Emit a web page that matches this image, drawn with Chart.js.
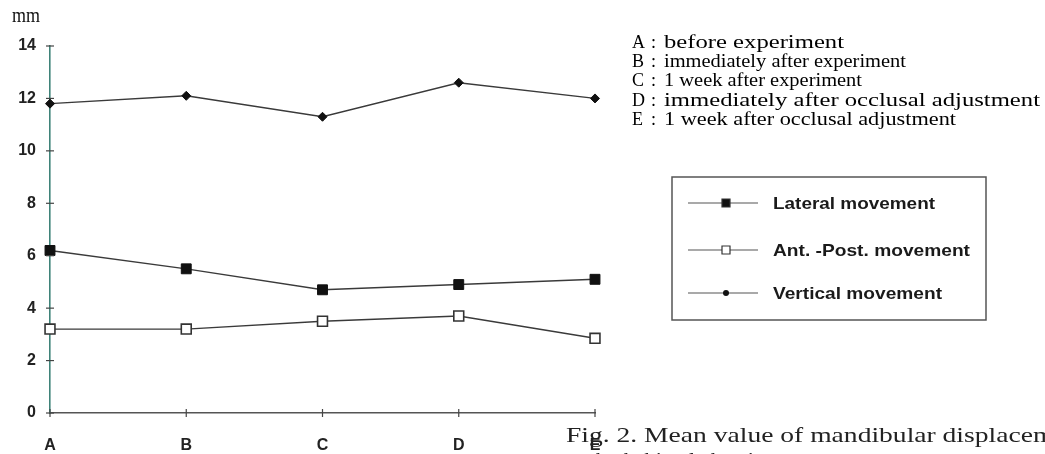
<!DOCTYPE html>
<html>
<head>
<meta charset="utf-8">
<script src="https://cdn.jsdelivr.net/npm/chart.js@4.4.0/dist/chart.umd.min.js"></script>
<style>
  html, body { margin: 0; padding: 0; background: #fff; }
  #wrap { width: 1045px; height: 454px; position: relative; }
</style>
</head>
<body>
<div id="wrap"><canvas id="myChart" width="1045" height="454"></canvas></div>
<script>
// données
const categories = ['A', 'B', 'C', 'D', 'E'];
const lateral = [6.2, 5.5, 4.7, 4.9, 5.1];
const antPost = [3.2, 3.2, 3.5, 3.7, 2.85];
const vertical = [11.8, 12.1, 11.3, 12.6, 12.0];
const yTicks = [0, 2, 4, 6, 8, 10, 12, 14];
const seriesNames = ['Lateral movement', 'Ant. -Post. movement', 'Vertical movement'];
const stageNotes = [
  'A : before experiment',
  'B : immediately after experiment',
  'C : 1 week after experiment',
  'D : immediately after occlusal adjustment',
  'E : 1 week after occlusal adjustment'
];
const caption = 'Fig. 2. Mean value of mandibular displacement';
const caption2 = 'by habitual chewing';

const lineCol = '#3a3a3a';

// texte étiré horizontalement à une largeur donnée
function stretchText(ctx, txt, x, y, font, width) {
  ctx.save();
  ctx.font = font;
  const w = ctx.measureText(txt).width;
  ctx.translate(x, y);
  ctx.scale(width / w, 1);
  ctx.fillText(txt, 0, 0);
  ctx.restore();
}

// petites graduations qui traversent les axes
const crossTicks = {
  id: 'crossTicks',
  afterDraw(chart) {
    const ctx = chart.ctx;
    const xs = chart.scales.x, ys = chart.scales.y;
    ctx.save();
    ctx.lineWidth = 1.2;
    ctx.strokeStyle = '#444';
    xs.ticks.forEach((t, i) => {
      const px = xs.getPixelForTick(i);
      ctx.beginPath();
      ctx.moveTo(px, ys.bottom - 4);
      ctx.lineTo(px, ys.bottom + 4);
      ctx.stroke();
    });
    ys.ticks.forEach((t, i) => {
      const py = ys.getPixelForTick(i);
      ctx.beginPath();
      ctx.moveTo(xs.left - 4, py);
      ctx.lineTo(xs.left + 4, py);
      ctx.stroke();
    });
    ctx.restore();
  }
};

// légende encadrée + notes + légende de figure
const extras = {
  id: 'extras',
  afterDraw(chart) {
    const ctx = chart.ctx;
    ctx.save();
    ctx.fillStyle = '#111';
    ctx.textBaseline = 'alphabetic';
    // unité
    stretchText(ctx, 'mm', 12, 22, '20px "Liberation Serif"', 28);

    // notes A-E
    stageNotes.forEach((s, i) => {
      const y = 48 + i * 19.2;
      const parts = s.split(' : ');
      ctx.fillStyle = '#000';
      ctx.font = '18px "Liberation Serif"';
      ctx.fillText(parts[0], 632, y);
      ctx.fillText(':', 651, y);
      const target = [180, 242, 198, 376, 292][i];
      stretchText(ctx, parts[1], 664, y, '18px "Liberation Serif"', target);
    });

    // cadre
    ctx.strokeStyle = '#555';
    ctx.lineWidth = 1.5;
    ctx.strokeRect(672, 177, 314, 143);

    const rows = [203, 250, 293];
    const widths = [162, 197, 169];
    chart.data.datasets.forEach((ds, i) => {
      const y = rows[i];
      ctx.strokeStyle = '#555';
      ctx.lineWidth = 1.2;
      ctx.beginPath();
      ctx.moveTo(688, y);
      ctx.lineTo(758, y);
      ctx.stroke();
      ctx.strokeStyle = '#333';
      ctx.fillStyle = ds.pointBackgroundColor;
      ctx.beginPath();
      if (i === 2) {
        ctx.arc(726, y, 3, 0, Math.PI * 2);
        ctx.fillStyle = '#111';
        ctx.fill();
      } else {
        ctx.rect(722, y - 4, 8, 8);
        ctx.fill();
        ctx.stroke();
      }
      ctx.fillStyle = '#1a1a1a';
      stretchText(ctx, ds.label, 773, y + 6, 'bold 17px "Liberation Sans"', widths[i]);
    });

    // légende de la figure
    ctx.fillStyle = '#222';
    stretchText(ctx, caption, 566, 442, '22px "Liberation Serif"', 522);
    stretchText(ctx, caption2, 596, 467, '22px "Liberation Serif"', 180);
    ctx.restore();
  }
};

const ctx = document.getElementById('myChart').getContext('2d');
const myChart = new Chart(ctx, {
  type: 'line',
  data: {
    labels: categories,
    datasets: [{
      label: seriesNames[0],
      data: lateral,
      borderColor: lineCol,
      borderWidth: 1.4,
      pointStyle: 'rect',
      pointRadius: 7,
      pointBackgroundColor: '#111',
      pointBorderColor: '#111',
      pointBorderWidth: 1
    }, {
      label: seriesNames[1],
      data: antPost,
      borderColor: lineCol,
      borderWidth: 1.4,
      pointStyle: 'rect',
      pointRadius: 7,
      pointBackgroundColor: '#fff',
      pointBorderColor: '#333',
      pointBorderWidth: 1.6
    }, {
      label: seriesNames[2],
      data: vertical,
      borderColor: lineCol,
      borderWidth: 1.4,
      pointStyle: 'rectRot',
      pointRadius: 4.5,
      pointBackgroundColor: '#111',
      pointBorderColor: '#111',
      pointBorderWidth: 1
    }]
  },
  options: {
    responsive: false,
    animation: false,
    layout: { padding: { top: 46, right: 450, left: 0, bottom: 0 } },
    plugins: { legend: { display: false }, tooltip: { enabled: false } },
    scales: {
      x: {
        offset: false,
        grid: { display: false, drawTicks: false },
        border: { display: true, color: '#555', width: 1.6 },
        ticks: { color: '#222', padding: 23, font: { family: 'Liberation Sans', weight: 'bold', size: 16 } },
        afterFit: s => { s.height = 41; }
      },
      y: {
        min: 0,
        max: 14,
        afterBuildTicks: s => { s.ticks = yTicks.map(v => ({ value: v })); },
        grid: { display: false, drawTicks: false },
        border: { display: true, color: '#3f8379', width: 1.6 },
        ticks: { color: '#222', padding: 14, font: { family: 'Liberation Sans', weight: 'bold', size: 16 } },
        afterFit: s => { s.width = 50; }
      }
    }
  },
  plugins: [crossTicks, extras]
});
</script>
</body>
</html>
